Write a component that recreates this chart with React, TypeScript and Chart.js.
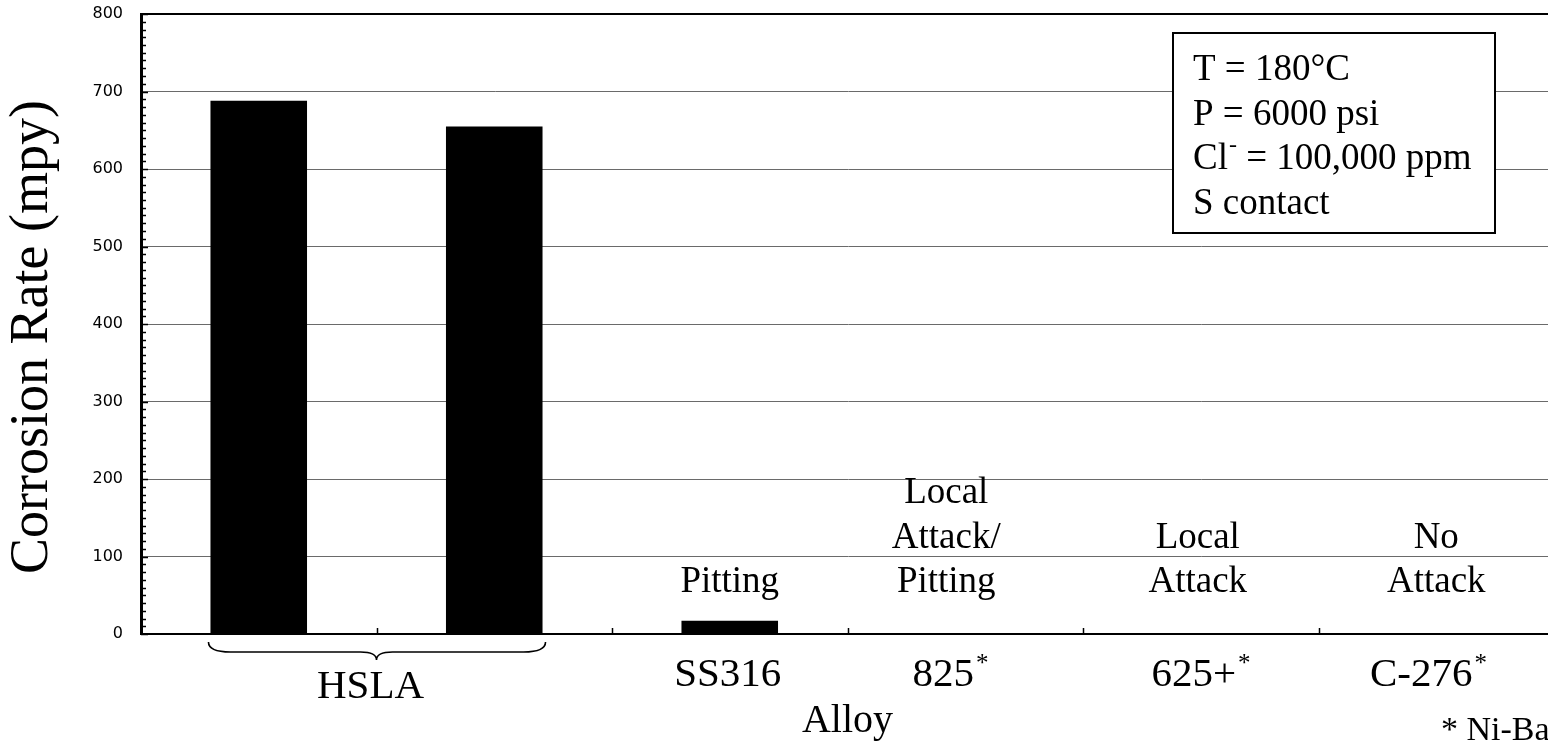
import { useEffect, useRef } from "react";
import { Chart, registerables } from "chart.js";

Chart.register(...registerables);

// ---- data ----
const categories = ["HSLA (1)", "HSLA (2)", "SS316", "825", "625+", "C-276"];
const corrosionRate = [688, 655, 17, 0, 0, 0];
const yTickValues = [0, 100, 200, 300, 400, 500, 600, 700, 800];
const groupLabel = "HSLA";
const alloyNames = ["", "", "SS316", "825", "625+", "C-276"];
const niBased = [false, false, false, true, true, true];
const attackNotes: string[][] = [[], [], ["Pitting"], ["Local", "Attack/", "Pitting"], ["Local", "Attack"], ["No", "Attack"]];
const conditionLines = ["T = 180°C", "P = 6000 psi", "Cl^- = 100,000 ppm", "S contact"];
const footnote = "* Ni-Base";
const xTitle = "Alloy";
const yTitle = "Corrosion Rate (mpy)";

// ---- layout nudges (pixels, not data) ----
const nameNudge = [0, 0, -2, -22, -7, -15];
const noteNudge = [0, 0, 0, -19, -3, 0];

const SERIF = "'Liberation Serif', 'Times New Roman', serif";

const overlayPlugin = {
  id: "overlay",
  afterDatasetsDraw(chart: any) {
    const { ctx, chartArea } = chart;
    const x = chart.scales.x;
    const y = chart.scales.y;
    const meta = chart.getDatasetMeta(0);
    ctx.save();

    // y-axis title
    ctx.save();
    ctx.translate(33, (chartArea.top + chartArea.bottom) / 2 + 13);
    ctx.rotate(-Math.PI / 2);
    ctx.font = `54px ${SERIF}`;
    ctx.fillStyle = "#000";
    ctx.textAlign = "center";
    ctx.textBaseline = "middle";
    ctx.fillText(yTitle, 0, 0);
    ctx.restore();

    // y minor ticks (inward)
    ctx.strokeStyle = "#000";
    ctx.lineWidth = 1.5;
    ctx.beginPath();
    for (let v = 0; v <= 800; v += 10) {
      const py = Math.round(y.getPixelForValue(v)) + 0.5;
      const len = v % 100 === 0 ? 7 : 5;
      ctx.moveTo(chartArea.left, py);
      ctx.lineTo(chartArea.left + len, py);
    }
    ctx.stroke();

    // x ticks at category boundaries (inward)
    ctx.beginPath();
    for (let i = 1; i < categories.length; i++) {
      const px = Math.round((x.getPixelForValue(i - 1) + x.getPixelForValue(i)) / 2) + 0.5;
      ctx.moveTo(px, chartArea.bottom);
      ctx.lineTo(px, chartArea.bottom - 6);
    }
    ctx.stroke();

    // brace under HSLA bars
    const b0 = meta.data[0];
    const b1 = meta.data[1];
    const x0 = b0.x - b0.width / 2 - 2;
    const x1 = b1.x + b1.width / 2 + 3;
    const xm = (b0.x + b1.x) / 2;
    const yb = chartArea.bottom;
    const y0 = yb + 8;
    const y1 = yb + 18;
    const ym = yb + 26;
    ctx.lineWidth = 1.6;
    ctx.beginPath();
    ctx.moveTo(x0, y0);
    ctx.quadraticCurveTo(x0, y1, x0 + 22, y1);
    ctx.lineTo(xm - 16, y1);
    ctx.quadraticCurveTo(xm, y1, xm, ym);
    ctx.quadraticCurveTo(xm, y1, xm + 16, y1);
    ctx.lineTo(x1 - 22, y1);
    ctx.quadraticCurveTo(x1, y1, x1, y0);
    ctx.stroke();

    ctx.fillStyle = "#000";
    ctx.textBaseline = "alphabetic";

    // HSLA group label
    ctx.font = `41px ${SERIF}`;
    ctx.textAlign = "center";
    ctx.fillText(groupLabel, xm - 6, yb + 64);

    // alloy names with superscript asterisks
    for (let i = 0; i < categories.length; i++) {
      const name = alloyNames[i];
      if (!name) continue;
      const cx = x.getPixelForValue(i) + nameNudge[i];
      ctx.font = `41px ${SERIF}`;
      ctx.textAlign = "center";
      ctx.fillText(name, cx, yb + 52);
      if (niBased[i]) {
        const w = ctx.measureText(name).width;
        ctx.font = `25px ${SERIF}`;
        ctx.textAlign = "left";
        ctx.fillText("*", cx + w / 2 + 2, yb + 37);
      }
    }

    // attack notes above bars
    ctx.font = `37px ${SERIF}`;
    ctx.textAlign = "center";
    for (let i = 0; i < categories.length; i++) {
      const lines = attackNotes[i];
      if (!lines.length) continue;
      const cx = x.getPixelForValue(i) + noteNudge[i];
      const base = y.getPixelForValue(0) - 42;
      lines.forEach((ln, k) => {
        ctx.fillText(ln, cx, base - (lines.length - 1 - k) * 44.5);
      });
    }

    // conditions box
    const bx = 1173, by = 33, bw = 322, bh = 200;
    ctx.fillStyle = "#fff";
    ctx.fillRect(bx, by, bw, bh);
    ctx.strokeStyle = "#000";
    ctx.lineWidth = 2;
    ctx.strokeRect(bx, by, bw, bh);
    ctx.fillStyle = "#000";
    ctx.textAlign = "left";
    conditionLines.forEach((ln, k) => {
      const baseY = 80 + k * 44.5;
      let cx = bx + 20;
      const parts = ln.split(/(\^.)/);
      parts.forEach((p) => {
        if (!p) return;
        if (p.startsWith("^")) {
          ctx.font = `24px ${SERIF}`;
          ctx.fillText(p.slice(1), cx + 1, baseY - 17);
          cx += ctx.measureText(p.slice(1)).width + 1;
        } else {
          ctx.font = `37px ${SERIF}`;
          ctx.fillText(p, cx, baseY);
          cx += ctx.measureText(p).width;
        }
      });
    });

    // footnote
    ctx.font = `34px ${SERIF}`;
    ctx.textAlign = "left";
    ctx.fillText(footnote, 1441, 740);

    ctx.restore();
  },
};

export default function App() {
  const ref = useRef<HTMLCanvasElement | null>(null);

  useEffect(() => {
    document.body.style.margin = "0";
    if (!ref.current) return;
    const chart = new Chart(ref.current, {
      type: "bar",
      data: {
        labels: categories,
        datasets: [
          {
            data: corrosionRate,
            backgroundColor: "#000",
            borderWidth: 0,
            categoryPercentage: 1,
            barPercentage: 0.41,
          },
        ],
      },
      options: {
        responsive: false,
        animation: false,
        devicePixelRatio: 1,
        layout: { padding: { top: 14, left: 0, right: 0, bottom: 0 } },
        plugins: {
          legend: { display: false },
          tooltip: { enabled: false },
        },
        scales: {
          x: {
            type: "category",
            offset: true,
            grid: { display: false },
            border: { display: true, color: "#000", width: 2 },
            ticks: { display: false },
            title: {
              display: true,
              text: xTitle,
              color: "#000",
              font: { family: SERIF, size: 40 },
              padding: { top: 0, bottom: 2 },
            },
            afterFit: (s: any) => {
              s.height = 113;
              s.paddingLeft = 0;
              s.paddingRight = 0;
            },
          },
          y: {
            min: 0,
            max: 800,
            afterBuildTicks: (s: any) => {
              s.ticks = yTickValues.map((v) => ({ value: v }));
            },
            grid: {
              drawTicks: false,
              color: (c: any) => (c.tick && c.tick.value === 800 ? "#000" : "#6a6a6a"),
              lineWidth: (c: any) => (c.tick && c.tick.value === 800 ? 2 : 1),
            },
            border: { display: true, color: "#000", width: 3 },
            ticks: {
              color: "#000",
              padding: 18,
              font: { family: "'DejaVu Sans', Arial, sans-serif", size: 16 },
            },
            title: { display: false },
            afterFit: (s: any) => {
              s.width = 141;
              s.paddingTop = 0;
              s.paddingBottom = 0;
            },
          },
        },
      },
      plugins: [overlayPlugin],
    });
    return () => chart.destroy();
  }, []);

  return (
    <div style={{ width: 1548, height: 747, overflow: "hidden", position: "relative" }}>
      <canvas ref={ref} width={1554} height={747} style={{ display: "block", width: 1554, height: 747 }} />
    </div>
  );
}
